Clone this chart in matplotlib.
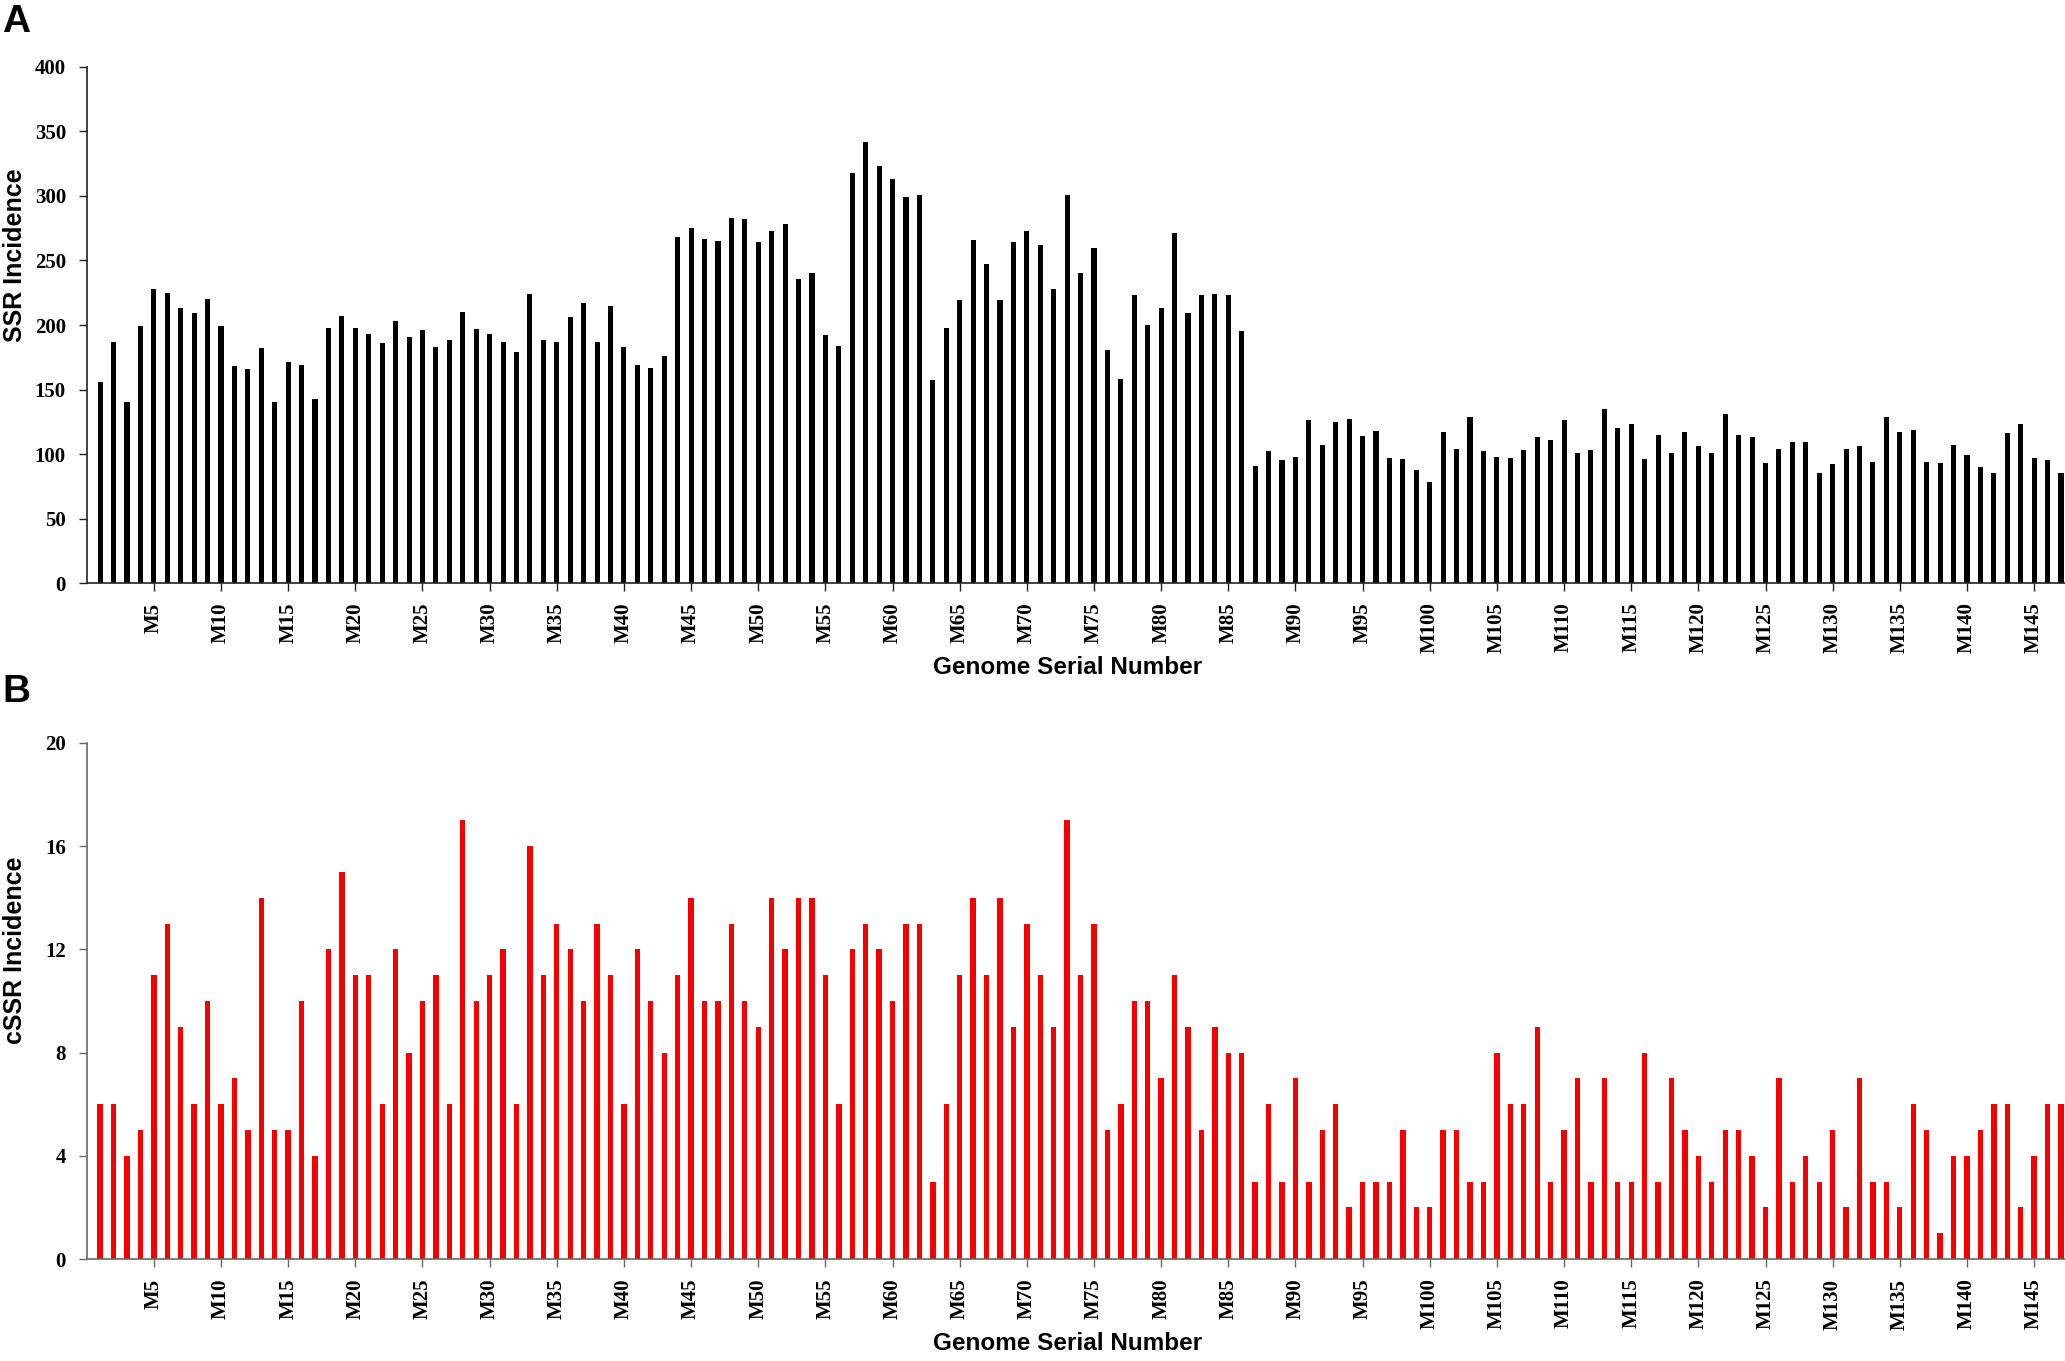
import matplotlib.pyplot as plt
import numpy as np

# SSR incidence per genome (M1..M147)
ssr = [156, 187, 140, 199, 228, 225, 213, 209, 220, 199,
       168, 166, 182, 140, 171, 169, 143, 198, 207, 198,
       193, 186, 203, 191, 196, 183, 188, 210, 197, 193,
       187, 179, 224, 188, 187, 206, 217, 187, 215, 183,
       169, 167, 176, 268, 275, 267, 265, 283, 282, 264,
       273, 278, 236, 240, 192, 184, 318, 342, 323, 313,
       299, 301, 157, 198, 219, 266, 247, 219, 264, 273,
       262, 228, 301, 240, 260, 181, 158, 223, 200, 213,
       271, 209, 223, 224, 223, 195, 91, 102, 95, 98,
       126, 107, 125, 127, 114, 118, 97, 96, 88, 78,
       117, 104, 129, 102, 98, 97, 103, 113, 111, 126,
       101, 103, 135, 120, 123, 96, 115, 101, 117, 106,
       101, 131, 115, 113, 93, 104, 109, 109, 85, 92,
       104, 106, 94, 129, 117, 119, 94, 93, 107, 99,
       90, 85, 116, 123, 97, 95, 85]

# cSSR incidence per genome
cssr = [6, 6, 4, 5, 11, 13, 9, 6, 10, 6,
        7, 5, 14, 5, 5, 10, 4, 12, 15, 11,
        11, 6, 12, 8, 10, 11, 6, 17, 10, 11,
        12, 6, 16, 11, 13, 12, 10, 13, 11, 6,
        12, 10, 8, 11, 14, 10, 10, 13, 10, 9,
        14, 12, 14, 14, 11, 6, 12, 13, 12, 10,
        13, 13, 3, 6, 11, 14, 11, 14, 9, 13,
        11, 9, 17, 11, 13, 5, 6, 10, 10, 7,
        11, 9, 5, 9, 8, 8, 3, 6, 3, 7,
        3, 5, 6, 2, 3, 3, 3, 5, 2, 2,
        5, 5, 3, 3, 8, 6, 6, 9, 3, 5,
        7, 3, 7, 3, 3, 8, 3, 7, 5, 4,
        3, 5, 5, 4, 2, 7, 3, 4, 3, 5,
        2, 7, 3, 3, 2, 6, 5, 1, 4, 4,
        5, 6, 6, 2, 4, 6, 6]

genomes = np.arange(1, len(ssr) + 1)
tick_pos = np.arange(5, 146, 5)
tick_labels = [f"M{i}" for i in tick_pos]

serif = "Liberation Serif"
sans = "Liberation Sans"

fig = plt.figure(figsize=(20.65, 13.61), dpi=100)
ax1 = fig.add_axes([0.042, 0.5716, 0.958, 0.3792])
ax2 = fig.add_axes([0.042, 0.0749, 0.958, 0.3792])


def style_axis(ax, data, color, width, ymax, ystep, ylabel, spine_color, label_y):
    ax.bar(genomes, data, width=width, color=color)
    ax.set_xlim(0, 147.3)
    ax.set_ylim(0, ymax)
    ax.set_yticks(np.arange(0, ymax + 1, ystep))
    ax.set_xticks(tick_pos)
    ax.set_xticklabels(tick_labels, rotation=90)
    for lab in ax.get_xticklabels() + ax.get_yticklabels():
        lab.set_fontfamily(serif)
        lab.set_fontweight("bold")
        lab.set_fontsize(15)
    ax.tick_params(axis="x", length=6, width=1, pad=8, colors=spine_color, labelcolor="black")
    ax.tick_params(axis="y", length=6, width=1, pad=9, colors=spine_color, labelcolor="black")
    for s in ["top", "right"]:
        ax.spines[s].set_visible(False)
    for s in ["left", "bottom"]:
        ax.spines[s].set_color(spine_color)
        ax.spines[s].set_linewidth(1.2)
    ax.set_ylabel(ylabel, fontfamily=sans, fontweight="bold", fontsize=18, va="center")
    ax.yaxis.set_label_coords(-0.0365, label_y)
    ax.set_xlabel("Genome Serial Number", fontfamily=sans, fontweight="bold",
                  fontsize=17.5, va="center")
    ax.xaxis.set_label_coords(0.496, -0.163)


style_axis(ax1, ssr, "black", 0.38, 400, 50, "SSR Incidence", "#222222", 0.636)
style_axis(ax2, cssr, "#f70000", 0.4, 20, 4, "cSSR Incidence", "#666666", 0.599)

fig.text(0.001, 0.997, "A", fontfamily=sans, fontweight="bold", fontsize=28, va="top", ha="left")
fig.text(0.001, 0.505, "B", fontfamily=sans, fontweight="bold", fontsize=28, va="top", ha="left")

fig.savefig("out.png", dpi=100)
